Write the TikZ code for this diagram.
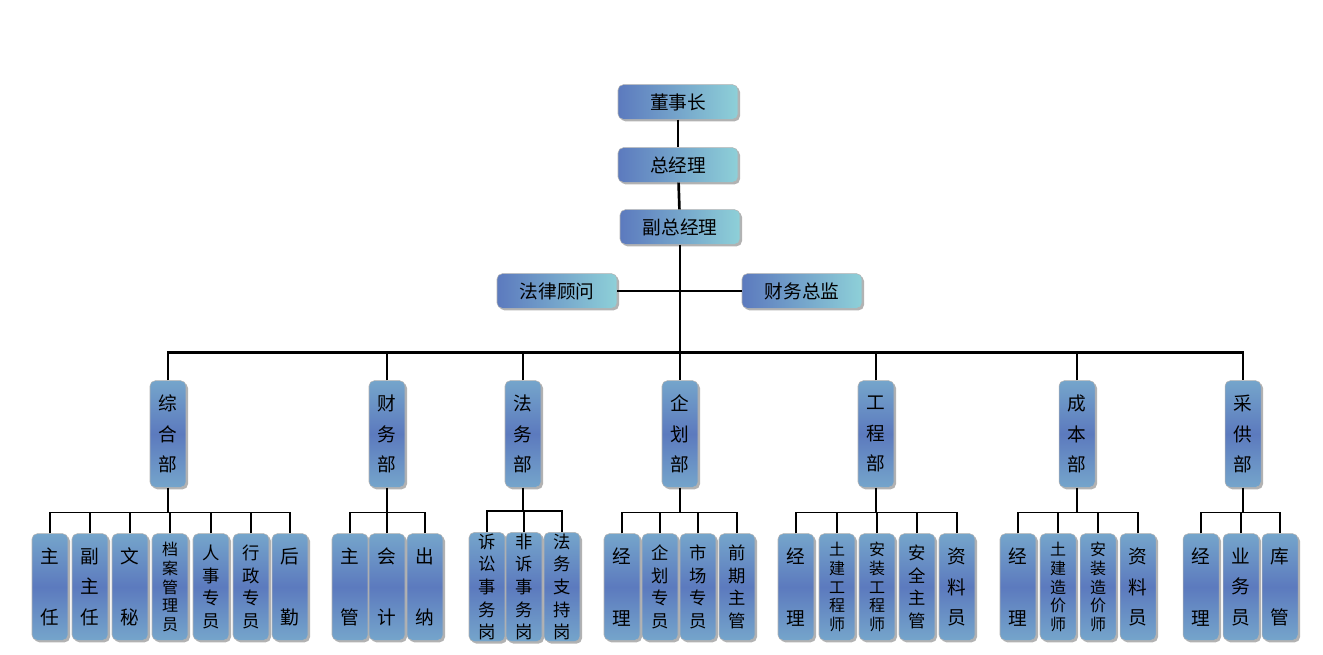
\documentclass[tikz,border=0pt]{standalone}
\usepackage{fontspec}
\setmainfont{Noto Sans CJK SC}
\usetikzlibrary{shadows}

\definecolor{boxblue}{RGB}{92,122,190}
\definecolor{boxcyan}{RGB}{142,208,216}
\pgfdeclareverticalshading{vshade}{100bp}{color(0bp)=(boxcyan); color(50bp)=(boxblue); color(100bp)=(boxcyan)}

\begin{document}
\begin{tikzpicture}[x=0.75pt, y=-0.75pt,
                    hbox/.style={rounded corners=4pt, draw=gray!60, left color=boxblue, right color=boxcyan,
                                 drop shadow={shadow xshift=1.5pt, shadow yshift=-1.5pt, fill=black!60},
                                 minimum width=90pt, minimum height=26pt, font=\fontsize{14}{16}\selectfont},
                    vbox/.style={rounded corners=4pt, draw=gray!60, shading=vshade,
                                 drop shadow={shadow xshift=1.5pt, shadow yshift=-1.5pt, fill=black!60},
                                 minimum width=27pt, minimum height=80pt, inner sep=1pt, align=center},
                    v2/.style={vbox, font=\fontsize{14}{46}\selectfont},
                    v3/.style={vbox, font=\fontsize{14}{23}\selectfont},
                    v4/.style={vbox, font=\fontsize{13}{17}\selectfont},
                    v5/.style={vbox, font=\fontsize{12}{14}\selectfont},
                    link/.style={line width=2pt},
                    sublink/.style={line width=1.3pt},
                ]
                    \useasboundingbox (0,0) rectangle (1323,655);
                    %Top nodes
                    \node[hbox](chair) at (678,102) {董事长};
                    \node[hbox](gm) at (678,165) {总经理};
                    \node[hbox](vgm) at (680,227) {副总经理};
                    \node[hbox](legal) at (557,291) {法律顾问};
                    \node[hbox](cfo) at (802,291) {财务总监};

                    %Departments
                    \node[v3](d1) at (168,434) {综\\合\\部};
                    \node[v3](d2) at (387,434) {财\\务\\部};
                    \node[v3](d3) at (523,434) {法\\务\\部};
                    \node[v3](d4) at (680,434) {企\\划\\部};
                    \node[v3](d5) at (876,434) {工\\程\\部};
                    \node[v3](d6) at (1077,434) {成\\本\\部};
                    \node[v3](d7) at (1243,434) {采\\供\\部};

                    %Staff
                    \node[v2](s11) at (50,587) {主\\任};
                    \node[v3](s12) at (90,587) {副\\主\\任};
                    \node[v2](s13) at (130,587) {文\\秘};
                    \node[v5](s14) at (170,587) {档\\案\\管\\理\\员};
                    \node[v4](s15) at (211,587) {人\\事\\专\\员};
                    \node[v4](s16) at (251,587) {行\\政\\专\\员};
                    \node[v2](s17) at (290,587) {后\\勤};
                    \node[v2](s21) at (350,587) {主\\管};
                    \node[v2](s22) at (387,587) {会\\计};
                    \node[v2](s23) at (425,587) {出\\纳};
                    \node[v4](s31) at (487,587) {诉\\讼\\事\\务\\岗};
                    \node[v4](s32) at (524,587) {非\\诉\\事\\务\\岗};
                    \node[v4](s33) at (562,587) {法\\务\\支\\持\\岗};
                    \node[v2](s41) at (622,587) {经\\理};
                    \node[v4](s42) at (660,587) {企\\划\\专\\员};
                    \node[v4](s43) at (698,587) {市\\场\\专\\员};
                    \node[v4](s44) at (737,587) {前\\期\\主\\管};
                    \node[v2](s51) at (796,587) {经\\理};
                    \node[v5](s52) at (837,587) {土\\建\\工\\程\\师};
                    \node[v5](s53) at (877,587) {安\\装\\工\\程\\师};
                    \node[v4](s54) at (917,587) {安\\全\\主\\管};
                    \node[v3](s55) at (957,587) {资\\料\\员};
                    \node[v2](s61) at (1018,587) {经\\理};
                    \node[v5](s62) at (1058,587) {土\\建\\造\\价\\师};
                    \node[v5](s63) at (1098,587) {安\\装\\造\\价\\师};
                    \node[v3](s64) at (1138,587) {资\\料\\员};
                    \node[v2](s71) at (1201,587) {经\\理};
                    \node[v3](s72) at (1241,587) {业\\务\\员};
                    \node[v2](s73) at (1280,587) {库\\管};

                    %Lines
                    \draw[link](chair) -- (gm);
                    \draw[link](gm) -- (vgm);
                    \draw[link](vgm.south) -- (d4.north);
                    \draw[link](legal.east) -- (cfo.west);
                    \draw[link](d1.north) -- ++(0,-28) -| (d7.north);
                    \foreach \d in {d2,d3,d5,d6}
                        \draw[link](\d.north) -- ++(0,-28);

                    \foreach \d/\first/\last/\all in {d1/s11/s17/{s11,s12,s13,s14,s15,s16,s17},
                                                      d2/s21/s23/{s21,s22,s23},
                                                      d3/s31/s33/{s31,s32,s33},
                                                      d4/s41/s44/{s41,s42,s43,s44},
                                                      d5/s51/s55/{s51,s52,s53,s54,s55},
                                                      d6/s61/s64/{s61,s62,s63,s64},
                                                      d7/s71/s73/{s71,s72,s73}}{
                        \draw[sublink](\d.south) -- (\d.south |- 0,512);
                        \draw[sublink](\first.north) -- ++(0,-21) -| (\last.north);
                        \foreach \s in \all
                            \draw[sublink](\s.north) -- ++(0,-21);
                    }
                \end{tikzpicture}
\end{document}
